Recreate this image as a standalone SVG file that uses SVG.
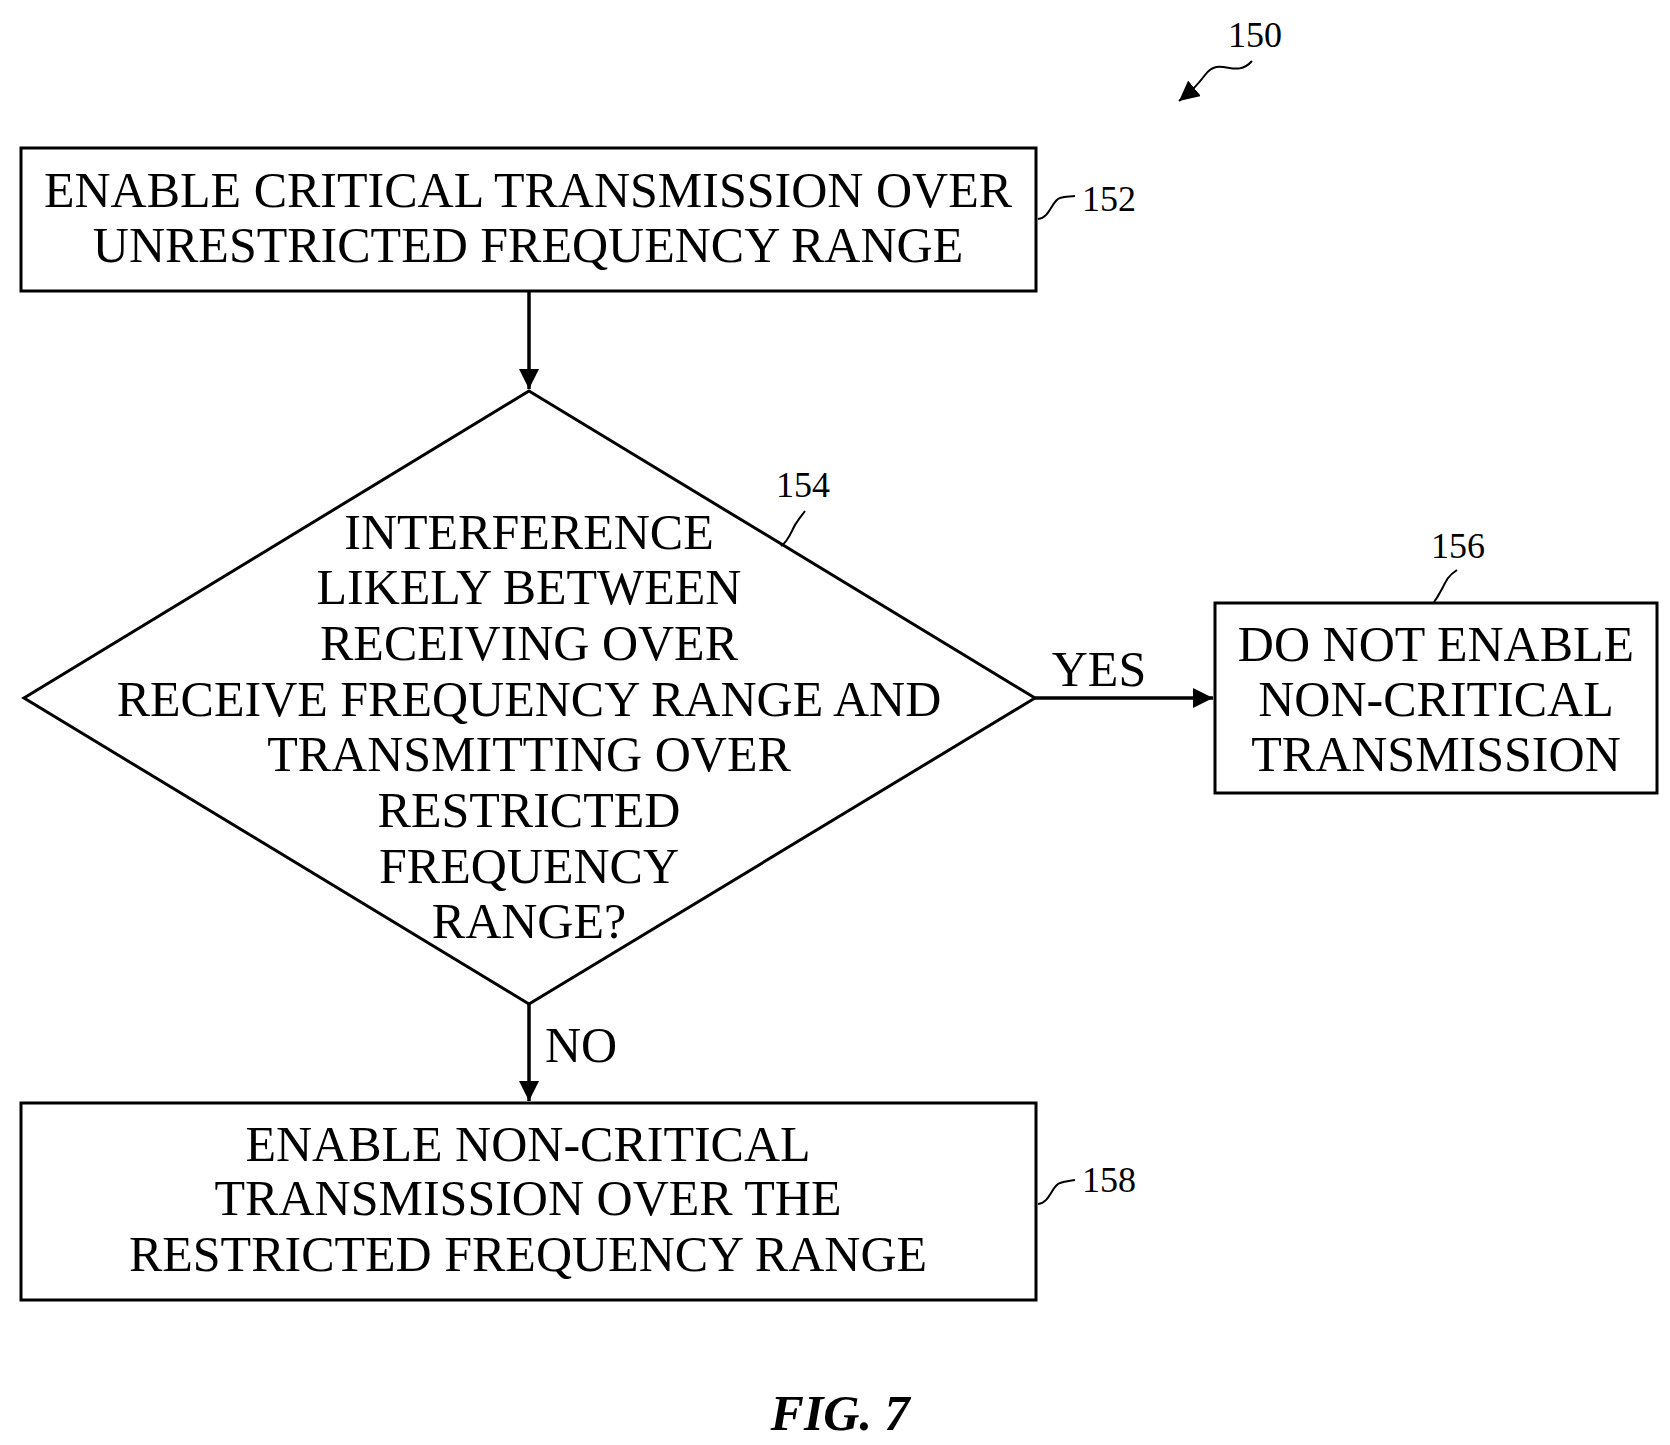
<svg xmlns="http://www.w3.org/2000/svg" width="1670" height="1445" viewBox="0 0 1670 1445">
<style>
.s{fill:#fff;stroke:#000;stroke-width:3}
.t{font-family:"Liberation Serif",serif;font-size:50px;text-anchor:middle;fill:#000}
.r{font-family:"Liberation Serif",serif;font-size:36px;fill:#000}
.c{fill:none;stroke:#000;stroke-width:3.5}
.q{fill:none;stroke:#000;stroke-width:2}
</style>
<defs><marker id="b" viewBox="0 0 10 10" refX="10" refY="5" markerWidth="20" markerHeight="20" markerUnits="userSpaceOnUse" orient="auto"><path d="M0,0L10,5L0,10z"/></marker></defs>
<g id="connectors">
<line class="c" x1="529" y1="291" x2="529" y2="389" marker-end="url(#b)"/>
<line class="c" x1="1035" y1="698" x2="1213" y2="698" marker-end="url(#b)"/>
<line class="c" x1="529" y1="1004" x2="529" y2="1101" marker-end="url(#b)"/>
<text class="t" x="1099" y="686">YES</text>
<text class="t" x="581" y="1062">NO</text>
</g>
<g id="n150"><text class="r" x="1228" y="47">150</text><path class="q" d="M1252,61 C1235,80 1220,55 1205,75 C1195,88 1190,92 1179,101" marker-end="url(#b)"/></g>
<g id="n152"><rect class="s" x="21" y="148" width="1015" height="143"/>
<text class="t" x="528" y="207">ENABLE CRITICAL TRANSMISSION OVER</text>
<text class="t" x="528" y="262">UNRESTRICTED FREQUENCY RANGE</text>
<text class="r" x="1082" y="211">152</text><path class="q" d="M1038,219 C1050,218 1052,200 1060,198 C1066,196 1070,197 1075,196"/></g>
<g id="n154"><polygon class="s" points="529,391 1035,698 529,1004 24,698"/>
<text class="t" x="529" y="549">INTERFERENCE</text>
<text class="t" x="529" y="604">LIKELY BETWEEN</text>
<text class="t" x="529" y="660">RECEIVING OVER</text>
<text class="t" x="529" y="716">RECEIVE FREQUENCY RANGE AND</text>
<text class="t" x="529" y="771">TRANSMITTING OVER</text>
<text class="t" x="529" y="827">RESTRICTED</text>
<text class="t" x="529" y="883">FREQUENCY</text>
<text class="t" x="529" y="938">RANGE?</text>
<text class="r" x="776" y="497">154</text><path class="q" d="M781,546 C790,540 792,528 797,522 C800,517 803,514 805,511"/></g>
<g id="n156"><rect class="s" x="1215" y="603" width="442" height="190"/>
<text class="t" x="1436" y="661">DO NOT ENABLE</text>
<text class="t" x="1436" y="716">NON-CRITICAL</text>
<text class="t" x="1436" y="771">TRANSMISSION</text>
<text class="r" x="1431" y="558">156</text><path class="q" d="M1434,602 C1440,594 1444,584 1448,578 C1451,574 1454,572 1457,570"/></g>
<g id="n158"><rect class="s" x="21" y="1103" width="1015" height="197"/>
<text class="t" x="528" y="1161">ENABLE NON-CRITICAL</text>
<text class="t" x="528" y="1215">TRANSMISSION OVER THE</text>
<text class="t" x="528" y="1271">RESTRICTED FREQUENCY RANGE</text>
<text class="r" x="1082" y="1192">158</text><path class="q" d="M1038,1204 C1050,1203 1052,1185 1060,1183 C1066,1181 1070,1181 1075,1180"/></g>
<text x="840" y="1430" font-family="Liberation Serif,serif" font-size="50" font-style="italic" font-weight="bold" text-anchor="middle">FIG. 7</text>
</svg>
